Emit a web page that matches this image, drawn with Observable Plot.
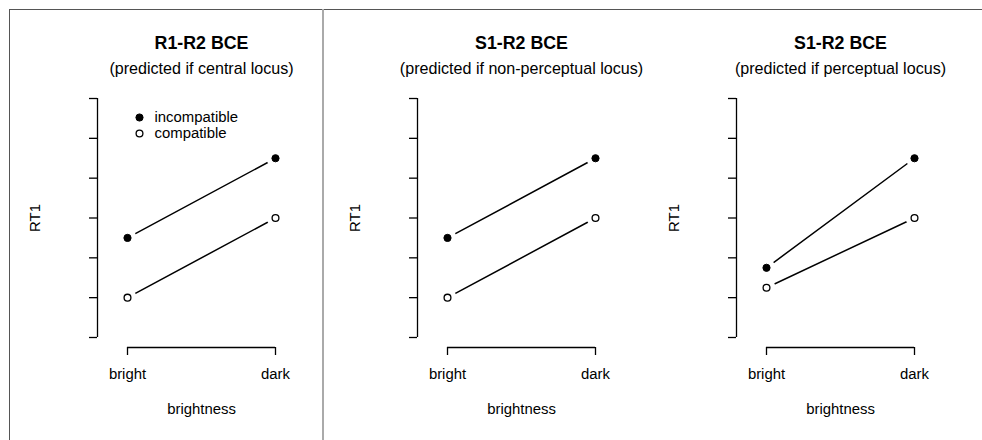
<!DOCTYPE html>
<html>
<head>
<meta charset="utf-8">
<script src="https://cdn.jsdelivr.net/npm/d3@7"></script>
<script src="https://cdn.jsdelivr.net/npm/@observablehq/plot@0.6"></script>
<style>
  html, body { margin: 0; padding: 0; background: white; }
  #wrap { position: relative; width: 982px; height: 440px; overflow: hidden; background: white; }
  .panel { position: absolute; top: 0; }
  .ln { position: absolute; }
</style>
</head>
<body>
<div id="wrap">
  <div class="ln" style="left:9px;top:9px;width:973px;height:1px;background:#555;"></div>
  <div class="ln" style="left:9px;top:9px;width:1px;height:431px;background:#555;"></div>
  <div class="ln" style="left:322px;top:9px;width:2px;height:431px;background:#aaa;"></div>
</div>
<script>
const titles = ["R1-R2 BCE", "S1-R2 BCE", "S1-R2 BCE"];
const subtitles = ["(predicted if central locus)", "(predicted if non-perceptual locus)", "(predicted if perceptual locus)"];
const brightness = ["bright", "dark"];
const yTicks = [0, 1, 2, 3, 4, 5, 6];
const conditions = ["incompatible", "compatible"];
const incompatibleRT = [[2.5, 4.5], [2.5, 4.5], [1.75, 4.5]];
const compatibleRT = [[1, 3], [1, 3], [1.25, 3]];
const xLabel = "brightness";
const yLabel = "RT1";
const panelLeft = [0, 320, 639];

const wrap = document.getElementById("wrap");
const font = "'Liberation Sans', Arial, Helvetica, sans-serif";

titles.forEach((title, p) => {
  const rows = [];
  brightness.forEach((b, i) => {
    rows.push({brightness: b, condition: "incompatible", rt: incompatibleRT[p][i]});
    rows.push({brightness: b, condition: "compatible", rt: compatibleRT[p][i]});
  });
  const filled = rows.filter(d => d.condition === "incompatible");
  const open = rows.filter(d => d.condition === "compatible");

  const marks = [
    Plot.ruleX([brightness[0]], {x: d => d, y1: () => yTicks[0], y2: () => yTicks[yTicks.length - 1], dx: -30, stroke: "black", strokeWidth: 1.3}),
    Plot.axisY({ticks: yTicks, tickSize: 8, tickFormat: () => "", label: null, strokeWidth: 1.3}),
    Plot.ruleY([yTicks[0]], {y: d => d, x1: () => brightness[0], x2: () => brightness[brightness.length - 1], dy: 10, stroke: "black", strokeWidth: 1.3}),
    Plot.axisX({tickSize: 8, tickPadding: 13, fontSize: 14.9, label: null, strokeWidth: 1.3}),
    Plot.line(rows, {x: "brightness", y: "rt", z: "condition", stroke: "black", strokeWidth: 1.5}),
    Plot.dot(rows, {x: "brightness", y: "rt", r: 9, fill: "white", stroke: null}),
    Plot.dot(filled, {x: "brightness", y: "rt", r: 3.6, fill: "black", stroke: "black", strokeWidth: 1}),
    Plot.dot(open, {x: "brightness", y: "rt", r: 3.4, fill: "white", stroke: "black", strokeWidth: 1.3}),
    Plot.text([title], {frameAnchor: "top", lineAnchor: "middle", textAnchor: "middle", dy: -55, fontWeight: "bold", fontSize: 17.8}),
    Plot.text([subtitles[p]], {frameAnchor: "top", lineAnchor: "middle", textAnchor: "middle", dy: -30, fontSize: 16.1}),
    Plot.text([xLabel], {frameAnchor: "bottom", lineAnchor: "middle", textAnchor: "middle", dy: 62, fontSize: 14.9}),
    Plot.text([yLabel], {frameAnchor: "left", lineAnchor: "middle", textAnchor: "middle", dx: -62, dy: -5, rotate: -90, fontSize: 14.9})
  ];
  if (p === 0) {
    marks.push(
      Plot.dot([conditions[0]], {frameAnchor: "top-left", dx: 42, dy: 19, r: 3.6, fill: "black", stroke: "black", strokeWidth: 1}),
      Plot.dot([conditions[1]], {frameAnchor: "top-left", dx: 42, dy: 35, r: 3.4, fill: "white", stroke: "black", strokeWidth: 1.3}),
      Plot.text([conditions[0]], {text: d => d, frameAnchor: "top-left", textAnchor: "start", lineAnchor: "middle", dx: 57, dy: 19, fontSize: 14.9}),
      Plot.text([conditions[1]], {text: d => d, frameAnchor: "top-left", textAnchor: "start", lineAnchor: "middle", dx: 57, dy: 35, fontSize: 14.9})
    );
  }

  const chart = Plot.plot({
    width: 320,
    height: 440,
    marginLeft: 97,
    marginRight: 15,
    marginTop: 98,
    marginBottom: 93,
    insetLeft: 30,
    insetRight: 30,
    insetTop: 0,
    insetBottom: 10,
    x: {type: "point", domain: brightness, padding: 0},
    y: {domain: [yTicks[0], yTicks[yTicks.length - 1]]},
    style: {fontFamily: font, fontSize: "14.9px", color: "black", background: "transparent", overflow: "visible"},
    marks
  });
  chart.classList.add("panel");
  chart.style.left = panelLeft[p] + "px";
  wrap.appendChild(chart);
});
</script>
</body>
</html>
